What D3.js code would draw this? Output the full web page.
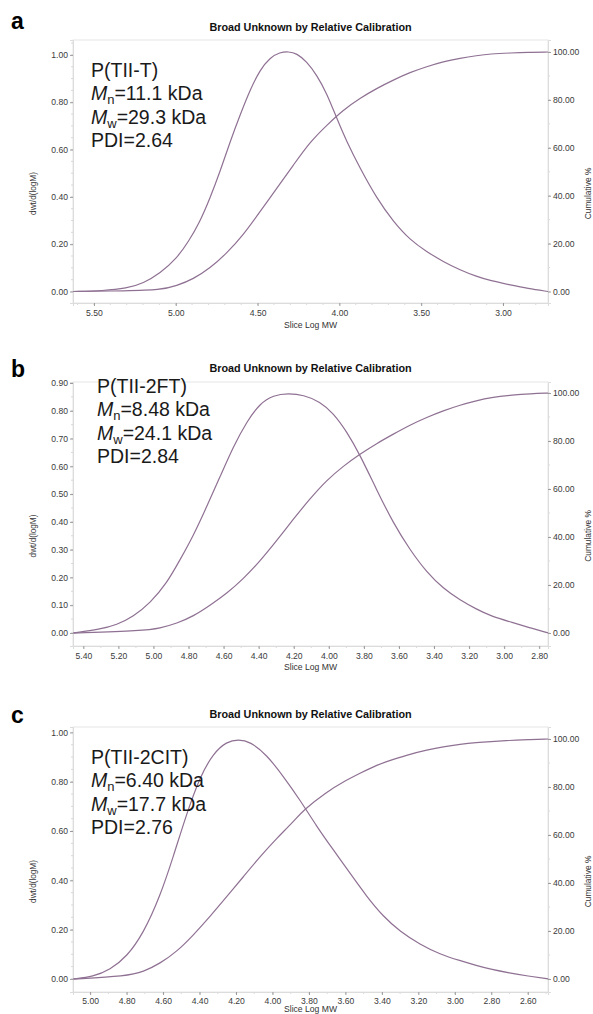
<!DOCTYPE html>
<html>
<head>
<meta charset="utf-8">
<script src="https://cdn.jsdelivr.net/npm/d3@7"></script>
<style>
  html, body { margin: 0; padding: 0; background: #fff; }
  svg { display: block; }
</style>
</head>
<body>
<svg id="chart" width="593" height="1014"></svg>
<script>
// ---- text content ----
const panelLetters = ["a", "b", "c"];
const chartTitle = "Broad Unknown by Relative Calibration";
const xAxisTitle = "Slice Log MW";
const leftAxisTitle = "dwt/d(logM)";
const rightAxisTitle = "Cumulative %";
const sampleNames = ["P(TII-T)", "P(TII-2FT)", "P(TII-2CIT)"];
const mnValues = ["11.1", "8.48", "6.40"];
const mwValues = ["29.3", "24.1", "17.7"];
const pdiValues = ["2.64", "2.84", "2.76"];

// ---- tick values ----
const xTicksA = [5.5, 5.0, 4.5, 4.0, 3.5, 3.0];
const xTicksB = [5.4, 5.2, 5.0, 4.8, 4.6, 4.4, 4.2, 4.0, 3.8, 3.6, 3.4, 3.2, 3.0, 2.8];
const xTicksC = [5.0, 4.8, 4.6, 4.4, 4.2, 4.0, 3.8, 3.6, 3.4, 3.2, 3.0, 2.8, 2.6];
const leftTicksA = [0, 0.2, 0.4, 0.6, 0.8, 1.0];
const leftTicksB = [0, 0.1, 0.2, 0.3, 0.4, 0.5, 0.6, 0.7, 0.8, 0.9];
const leftTicksC = [0, 0.2, 0.4, 0.6, 0.8, 1.0];
const rightTicks = [0, 20, 40, 60, 80, 100];

// ---- panel a: P(TII-T) ----
const dwtLogMwA = [5.626, 5.443, 5.300, 5.198, 5.096, 4.994, 4.923, 4.852, 4.791, 4.729, 4.668,
  4.607, 4.546, 4.485, 4.424, 4.363, 4.312, 4.261, 4.200, 4.138, 4.077, 4.016, 3.955, 3.874,
  3.772, 3.670, 3.568, 3.466, 3.365, 3.262, 3.160, 3.079, 2.950, 2.850, 2.725];
const dwtA = [0.000, 0.003, 0.013, 0.035, 0.077, 0.140, 0.210, 0.295, 0.394, 0.507, 0.633,
  0.746, 0.852, 0.937, 0.989, 1.011, 1.014, 1.007, 0.972, 0.915, 0.838, 0.732, 0.633, 0.521,
  0.394, 0.295, 0.218, 0.168, 0.126, 0.091, 0.063, 0.046, 0.027, 0.013, 0.000];
const cumLogMwA = [5.626, 5.300, 5.096, 4.994, 4.893, 4.791, 4.688, 4.587, 4.485, 4.383, 4.281,
  4.179, 4.076, 3.976, 3.874, 3.772, 3.670, 3.568, 3.466, 3.365, 3.262, 3.160, 3.079, 2.950,
  2.850, 2.725];
const cumA = [0, 0.3, 0.6, 2.4, 5.2, 9.7, 16.0, 23.6, 33.3, 43.1, 52.8,
  62.5, 69.5, 75.8, 80.7, 84.8, 88.3, 91.5, 93.9, 96.0, 97.4, 98.5, 99.2, 99.6,
  99.85, 100];

// ---- panel b: P(TII-2FT) ----
const dwtLogMwB = [5.457, 5.305, 5.210, 5.115, 5.020, 4.924, 4.849, 4.775, 4.696, 4.620, 4.545,
  4.468, 4.392, 4.316, 4.231, 4.145, 4.050, 3.974, 3.898, 3.822, 3.727, 3.632, 3.537, 3.441,
  3.347, 3.251, 3.156, 3.080, 2.950, 2.850, 2.749];
const dwtB = [0.000, 0.013, 0.029, 0.059, 0.107, 0.179, 0.263, 0.347, 0.455, 0.563, 0.671,
  0.761, 0.827, 0.856, 0.863, 0.857, 0.833, 0.791, 0.725, 0.641, 0.515, 0.395, 0.299, 0.218,
  0.160, 0.118, 0.085, 0.062, 0.037, 0.018, 0.000];
const cumLogMwB = [5.457, 5.058, 4.963, 4.867, 4.773, 4.678, 4.582, 4.488, 4.392, 4.297, 4.202,
  4.107, 4.012, 3.917, 3.822, 3.727, 3.632, 3.537, 3.441, 3.347, 3.251, 3.156, 3.080, 2.950,
  2.850, 2.749];
const cumB = [0, 1.0, 2.0, 4.0, 7.0, 11.5, 16.5, 22.5, 30.0, 38.5, 47.5,
  56.0, 63.7, 69.6, 74.6, 79.0, 82.9, 86.7, 89.9, 92.6, 95.0, 96.8, 98.1, 99.2,
  99.7, 100];

// ---- panel c: P(TII-2CIT) ----
const dwtLogMwC = [5.092, 4.983, 4.891, 4.799, 4.708, 4.617, 4.544, 4.470, 4.397, 4.324, 4.251,
  4.187, 4.123, 4.031, 3.940, 3.849, 3.757, 3.666, 3.575, 3.483, 3.392, 3.300, 3.191, 3.081,
  2.971, 2.880, 2.807, 2.700, 2.600, 2.488];
const dwtC = [0.000, 0.009, 0.037, 0.090, 0.185, 0.334, 0.496, 0.672, 0.821, 0.916, 0.963,
  0.972, 0.963, 0.909, 0.821, 0.726, 0.618, 0.523, 0.429, 0.334, 0.253, 0.192, 0.140, 0.100,
  0.074, 0.054, 0.040, 0.024, 0.012, 0.000];
const cumLogMwC = [5.092, 4.799, 4.708, 4.617, 4.525, 4.434, 4.343, 4.251, 4.160, 4.068, 3.977,
  3.886, 3.831, 3.702, 3.611, 3.520, 3.428, 3.337, 3.245, 3.154, 3.063, 2.971, 2.880, 2.807,
  2.700, 2.600, 2.488];
const cumC = [0, 1.25, 3.0, 6.5, 11.4, 18.3, 26.0, 34.3, 42.6, 51.0, 58.6,
  65.5, 70.4, 78.0, 82.2, 85.7, 89.2, 91.5, 93.7, 95.4, 96.8, 97.8, 98.5, 98.9,
  99.4, 99.75, 100];

// ---- panel layout (pixel frame + axis ranges) ----
const layout = [
  { top: 40, bottom: 303, xDomain: [5.628, 2.725], yL: [-0.0486, 1.063], yR: [-4.8, 105.0],
    letterY: 29, titleY: 31, textY: 77, textX: 91, xLabY: 316, xTitleY: 328 },
  { top: 382, bottom: 646, xDomain: [5.459, 2.75], yL: [-0.047, 0.9036], yR: [-5.4, 104.6],
    letterY: 377, titleY: 372, textY: 393, textX: 97, xLabY: 659, xTitleY: 670 },
  { top: 727, bottom: 992, xDomain: [5.094, 2.489], yL: [-0.053, 1.022], yR: [-5.4, 105.0],
    letterY: 723, titleY: 718, textY: 764, textX: 91, xLabY: 1004, xTitleY: 1012 }
];

const panels = [
  { dwtX: dwtLogMwA, dwt: dwtA, cumX: cumLogMwA, cum: cumA, xTicks: xTicksA, leftTicks: leftTicksA },
  { dwtX: dwtLogMwB, dwt: dwtB, cumX: cumLogMwB, cum: cumB, xTicks: xTicksB, leftTicks: leftTicksB },
  { dwtX: dwtLogMwC, dwt: dwtC, cumX: cumLogMwC, cum: cumC, xTicks: xTicksC, leftTicks: leftTicksC }
];

const LEFT = 73, RIGHT = 548;
const FONT = "Arial, 'Liberation Sans', Helvetica, sans-serif";
const LINE_COLOR = "#8f7193";
const svg = d3.select("#chart");

function steps(a, b, step) {
  const out = [];
  const n = Math.floor((b - a) / step + 1e-6);
  for (let i = 0; i <= n; i++) out.push(+(a + i * step).toFixed(4));
  return out;
}

panels.forEach((p, i) => {
  const L = layout[i];
  const g = svg.append("g");
  const x = d3.scaleLinear().domain(L.xDomain).range([LEFT, RIGHT]);
  const yL = d3.scaleLinear().domain(L.yL).range([L.bottom, L.top]);
  const yR = d3.scaleLinear().domain(L.yR).range([L.bottom, L.top]);

  // plot frame
  g.append("rect")
    .attr("x", LEFT).attr("y", L.top)
    .attr("width", RIGHT - LEFT).attr("height", L.bottom - L.top)
    .attr("fill", "none").attr("stroke", "#e6e6e6").attr("stroke-width", 1);

  // minor ticks
  const xMin = Math.min(...L.xDomain), xMax = Math.max(...L.xDomain);
  const xMinor = steps(Math.ceil(xMin * 10) / 10, xMax, 0.1);
  g.append("g").selectAll("line").data(xMinor).join("line")
    .attr("x1", d => x(d)).attr("x2", d => x(d))
    .attr("y1", L.bottom).attr("y2", L.bottom + 2)
    .attr("stroke", "#d0d0d0").attr("stroke-width", 0.8);
  const yMinor = steps(0, L.yL[1], 0.05);
  g.append("g").selectAll("line").data(yMinor).join("line")
    .attr("x1", LEFT - 2).attr("x2", LEFT)
    .attr("y1", d => yL(d)).attr("y2", d => yL(d))
    .attr("stroke", "#d0d0d0").attr("stroke-width", 0.8);
  const rMinor = steps(0, 100, 10);
  g.append("g").selectAll("line").data(rMinor).join("line")
    .attr("x1", RIGHT).attr("x2", RIGHT + 2)
    .attr("y1", d => yR(d)).attr("y2", d => yR(d))
    .attr("stroke", "#d0d0d0").attr("stroke-width", 0.8);

  // axes
  const styleAxis = sel => {
    sel.select(".domain").attr("stroke", "#dcdcdc");
    sel.selectAll(".tick line").attr("stroke", "#9a9a9a");
    sel.selectAll(".tick text").attr("fill", "#3a3a3a").attr("font-size", "8.6px").attr("font-family", FONT);
  };
  g.append("g").attr("transform", `translate(0,${L.bottom})`)
    .call(d3.axisBottom(x).tickValues(p.xTicks).tickFormat(d3.format(".2f")).tickSize(3).tickPadding(4))
    .call(styleAxis)
    .call(s => s.selectAll(".tick text").attr("dy", null).attr("y", L.xLabY - L.bottom));
  g.append("g").attr("transform", `translate(${LEFT},0)`)
    .call(d3.axisLeft(yL).tickValues(p.leftTicks).tickFormat(d3.format(".2f")).tickSize(3).tickPadding(2))
    .call(styleAxis);
  g.append("g").attr("transform", `translate(${RIGHT},0)`)
    .call(d3.axisRight(yR).tickValues(rightTicks).tickFormat(d3.format(".2f")).tickSize(3).tickPadding(2))
    .call(styleAxis);

  // curves
  const dwtLine = d3.line().x(d => x(d[0])).y(d => yL(d[1])).curve(d3.curveBasis);
  const cumLine = d3.line().x(d => x(d[0])).y(d => yR(d[1])).curve(d3.curveBasis);
  g.append("path").datum(d3.zip(p.dwtX, p.dwt))
    .attr("d", dwtLine).attr("fill", "none").attr("stroke", LINE_COLOR).attr("stroke-width", 1.2);
  g.append("path").datum(d3.zip(p.cumX, p.cum))
    .attr("d", cumLine).attr("fill", "none").attr("stroke", LINE_COLOR).attr("stroke-width", 1.2);

  // titles
  g.append("text").attr("x", (LEFT + RIGHT) / 2).attr("y", L.titleY)
    .attr("text-anchor", "middle").attr("font-family", FONT).attr("font-weight", "bold")
    .attr("font-size", "10.8px").attr("fill", "#111").text(chartTitle);
  g.append("text").attr("x", (LEFT + RIGHT) / 2).attr("y", L.xTitleY)
    .attr("text-anchor", "middle").attr("font-family", FONT)
    .attr("font-size", "8.6px").attr("fill", "#333").text(xAxisTitle);
  const midY = (L.top + L.bottom) / 2 + 22;
  g.append("text").attr("transform", `translate(36,${midY}) rotate(-90)`)
    .attr("text-anchor", "middle").attr("font-family", FONT)
    .attr("font-size", "8.2px").attr("fill", "#333").text(leftAxisTitle);
  g.append("text").attr("transform", `translate(591,${midY}) rotate(-90)`)
    .attr("text-anchor", "middle").attr("font-family", FONT)
    .attr("font-size", "8.4px").attr("fill", "#333").text(rightAxisTitle);

  // panel letter
  g.append("text").attr("x", 11).attr("y", L.letterY)
    .attr("font-family", FONT).attr("font-weight", "bold")
    .attr("font-size", "23px").attr("fill", "#000").text(panelLetters[i]);

  // sample annotation
  const tx = L.textX;
  const lh = 23.3;
  const ann = g.append("g").attr("font-family", FONT).attr("font-size", "19.5px").attr("fill", "#1a1a1a");
  ann.append("text").attr("x", tx).attr("y", L.textY).text(sampleNames[i]);
  const mn = ann.append("text").attr("x", tx).attr("y", L.textY + lh);
  mn.append("tspan").attr("font-style", "italic").text("M");
  mn.append("tspan").attr("font-size", "13px").attr("dy", 4).text("n");
  mn.append("tspan").attr("dy", -4).text("=" + mnValues[i] + " kDa");
  const mw = ann.append("text").attr("x", tx).attr("y", L.textY + 2 * lh);
  mw.append("tspan").attr("font-style", "italic").text("M");
  mw.append("tspan").attr("font-size", "13px").attr("dy", 4).text("w");
  mw.append("tspan").attr("dy", -4).text("=" + mwValues[i] + " kDa");
  ann.append("text").attr("x", tx).attr("y", L.textY + 3 * lh).text("PDI=" + pdiValues[i]);
});
</script>
</body>
</html>
